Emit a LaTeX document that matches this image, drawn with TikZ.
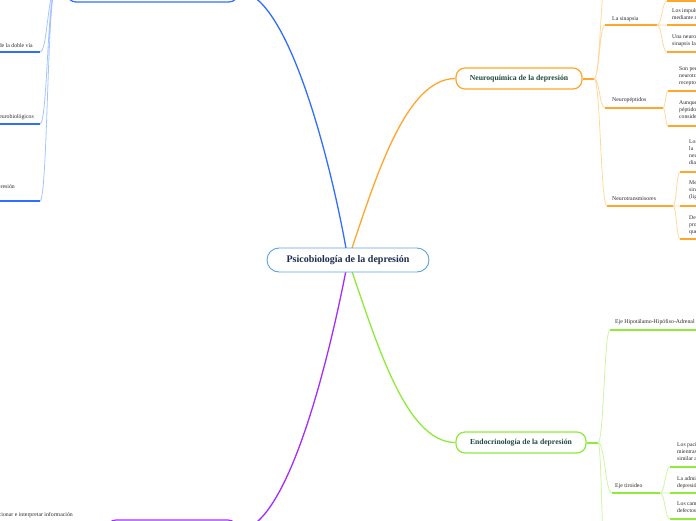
\documentclass[tikz,border=0pt]{standalone}
\usepackage{fontspec}
\setmainfont{Liberation Serif}
\usetikzlibrary{calc,backgrounds}
\definecolor{cB}{HTML}{2F6EFF}
\definecolor{cBl}{HTML}{A8C4FF}
\definecolor{cO}{HTML}{FFA62B}
\definecolor{cOl}{HTML}{FFD99C}
\definecolor{cG}{HTML}{8EEB3A}
\definecolor{cGl}{HTML}{CDF5A3}
\definecolor{cP}{HTML}{A52CFF}
\definecolor{cC}{HTML}{5AA2DD}
\definecolor{tNavy}{HTML}{1B2B50}
\definecolor{tTeal}{HTML}{1F4A40}
\definecolor{tSub}{HTML}{2A2A2A}
\begin{document}
\begin{tikzpicture}[x=1pt,y=-1pt,
  fan/.style={to path={let \p1=(\tikztostart), \p2=(\tikztotarget) in
     .. controls ({0.5*\x1+0.5*\x2},\y1) and ({0.5*\x1+0.5*\x2},\y2) .. (\p2)}},
  topic/.style={draw, line width=1.2pt, fill=white, rounded corners=9pt,
     minimum height=21pt, inner sep=0pt, text=tTeal,
     font=\bfseries\fontsize{7.7}{9}\selectfont},
  sub/.style={font=\fontsize{5.8}{7}\selectfont, text=tSub, inner sep=0pt, anchor=base west},
  ch/.style={font=\fontsize{5.7}{7}\selectfont, text=tSub, inner sep=0pt, anchor=north west, align=left},
  main/.style={line width=1.3pt},
  ul/.style={line width=2pt},
  thin/.style={line width=0.8pt},
]
\useasboundingbox (0,0) rectangle (696,520);

% ---------- nodes ----------
\node[draw=cC, line width=0.9pt, fill=white, rounded corners=12pt,
      minimum width=162pt, minimum height=24pt, inner sep=0pt, text=tNavy,
      font=\bfseries\fontsize{10}{11}\selectfont] (c) at (348,260) {Psicobiología de la depresión};
\node[topic, draw=cO, minimum width=126pt] (nq) at (519,78.5) {Neuroquímica de la depresión};
\node[topic, draw=cG, minimum width=130pt] (en) at (521,442.5) {Endocrinología de la depresión};
\node[topic, draw=cB, minimum width=171pt] (bt) at (152.5,-8.5) {};
\node[topic, draw=cP, minimum width=130pt] (pu) at (172,530.5) {};

% ---------- coordinates ----------
\coordinate (nqf) at (594,78.5);
\coordinate (ls1) at (605,25);  \coordinate (ls2) at (657,25);
\coordinate (np1) at (605,108); \coordinate (np2) at (663,108);
\coordinate (nt1) at (607,206); \coordinate (nt2) at (673,206);
\coordinate (nqo) at (608,-40);
\coordinate (lsa) at (667,1);   \coordinate (lsa2) at (700,1);
\coordinate (lsb) at (667,25);  \coordinate (lsb2) at (700,25);
\coordinate (lsc) at (667,52);  \coordinate (lsc2) at (700,52);
\coordinate (npa) at (668,91);  \coordinate (npa2) at (700,91);
\coordinate (npb) at (668,126); \coordinate (npb2) at (700,126);
\coordinate (nta) at (680,172); \coordinate (nta2) at (700,172);
\coordinate (ntb) at (680,206); \coordinate (ntb2) at (700,206);
\coordinate (ntc) at (680,239); \coordinate (ntc2) at (700,239);

\coordinate (enf) at (598,442.5);
\coordinate (hp1) at (610,330); \coordinate (hp2) at (700,330);
\coordinate (et1) at (612,493); \coordinate (et2) at (660,493);
\coordinate (eno) at (606,580);
\coordinate (eta) at (670,467); \coordinate (eta2) at (700,467);
\coordinate (etb) at (670,493); \coordinate (etb2) at (700,493);
\coordinate (etc) at (670,519); \coordinate (etc2) at (700,519);

\coordinate (btf) at (55,-8.5);
\coordinate (b1) at (40,52);  \coordinate (b1e) at (-5,52);
\coordinate (b2) at (40,124); \coordinate (b2e) at (-5,124);
\coordinate (b3) at (40,201); \coordinate (b3e) at (-5,201);

% ---------- connectors ----------
\begin{pgfonlayer}{background}
\draw[main, cB] (c.center) .. controls (335,180) and (290,-8.5) .. (bt.east);
\draw[main, cO] (c.center) .. controls (375,180) and (405,78.5) .. (nq.west);
\draw[main, cP] (c.center) .. controls (333,340) and (290,530.5) .. (pu.east);
\draw[main, cG] (c.center) .. controls (376,340) and (405,442.5) .. (en.west);
\end{pgfonlayer}

% orange branch
\draw[ul, cO] (nq.east) -- (nqf);
\draw[thin, cOl] (nqf) to[fan] (ls1) (nqf) to[fan] (np1) (nqf) to[fan] (nt1) (nqf) to[fan] (nqo);
\draw[ul, cO] (ls1) -- (ls2) (np1) -- (np2) (nt1) -- (nt2);
\draw[thin, cOl] (ls2) to[fan] (lsa) (ls2) to[fan] (lsb) (ls2) to[fan] (lsc);
\draw[thin, cOl] (np2) to[fan] (npa) (np2) to[fan] (npb);
\draw[thin, cOl] (nt2) to[fan] (nta) (nt2) to[fan] (ntb) (nt2) to[fan] (ntc);
\draw[ul, cO] (lsa) -- (lsa2) (lsb) -- (lsb2) (lsc) -- (lsc2)
  (npa) -- (npa2) (npb) -- (npb2) (nta) -- (nta2) (ntb) -- (ntb2) (ntc) -- (ntc2);

\node[sub] (tls) at (612,20.5) {La sinapsia};
\node[sub] (tnp) at (612,101.5) {Neuropéptidos};
\node[sub] (tnt) at (612,200.5) {Neurotransmisores};
\node[ch] (tlsb) at (672,8.5) {Los impulsos nerviosos\\mediante neurotransmisores};
\node[ch] (tlsc) at (672,34.5) {Una neurona se comunica\\sinapsis la};
\node[ch] (tnpa) at (679,66.5) {Son pequeños\\neurotransmisores\\receptores};
\node[ch] (tnpb) at (679,100.5) {Aunque los\\péptidos\\considerados};
\node[ch] (tnta) at (689,139.5) {Los\\la\\neuronas\\diana};
\node[ch] (tntb) at (689,180.5) {Mediante\\sinapsis\\(ligandos)};
\node[ch] (tntc) at (689,215.5) {De\\producen\\que};

% green branch
\draw[ul, cG] (en.east) -- (enf);
\draw[thin, cGl] (enf) to[fan] (hp1) (enf) to[fan] (et1) (enf) to[fan] (eno);
\draw[ul, cG] (hp1) -- (hp2) (et1) -- (et2);
\draw[thin, cGl] (et2) to[fan] (eta) (et2) to[fan] (etb) (et2) to[fan] (etc);
\draw[ul, cG] (eta) -- (eta2) (etb) -- (etb2) (etc) -- (etc2);
\node[sub] (thp) at (615,323.5) {Eje Hipotálamo-Hipófiso-Adrenal};
\node[sub] (tet) at (615,487.5) {Eje tiroideo};
\node[ch] (teta) at (677,442.5) {Los pacientes\\mientras\\similar a};
\node[ch] (tetb) at (677,476.5) {La administración\\depresión};
\node[ch] (tetc) at (677,501.5) {Los cambios\\defectos};

% blue branch (left)
\draw[ul, cB] (bt.west) -- (btf);
\draw[thin, cBl] (btf) to[fan] (b1) (btf) to[fan] (b2) (btf) to[fan] (b3);
\draw[ul, cB] (b1) -- (b1e) (b2) -- (b2e) (b3) -- (b3e);
\node[sub, anchor=base east] (tb1) at (33,47.5) {de la doble vía};
\node[sub, anchor=base east] (tb2) at (34,118.5) {neurobiológicos};
\node[sub, anchor=base east] (tb3) at (15,188.5) {depresión};

% purple branch text
\node[sub, anchor=base east] (tp1) at (73,516) {seleccionar e interpretar información};
\end{tikzpicture}
\end{document}
